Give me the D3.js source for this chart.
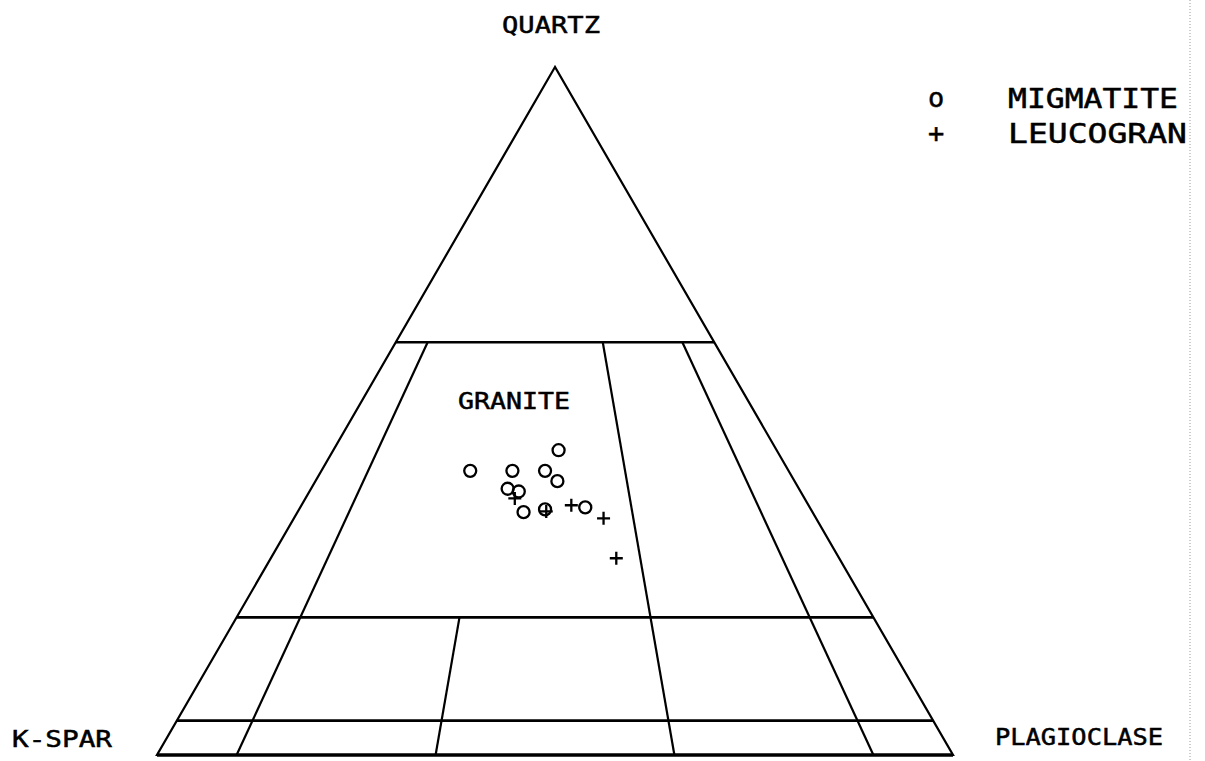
<!DOCTYPE html>
<html lang="en">
<head>
  <meta charset="UTF-8">
  <title>QAP ternary</title>
  <style>
    body { margin: 0; background: #fff; }
    svg { display: block; background: #fff; }
    .edge { fill: none; stroke: #000; stroke-width: 2.2; stroke-linejoin: miter; }
    .hline { stroke: #000; stroke-width: 2.6; }
    .base { stroke: #000; stroke-width: 3.5; }
    .ratio { stroke: #000; stroke-width: 2.2; }
    .label { font-family: "DejaVu Sans Mono", monospace; font-size: 23px; fill: #000; stroke: #000; stroke-width: 0.5; }
    .legend { font-family: "DejaVu Sans Mono", monospace; font-size: 27px; fill: #000; stroke: #000; stroke-width: 0.5; }
    .mig { fill: none; stroke: #000; stroke-width: 2.3; }
    .leu { stroke: #000; stroke-width: 2.3; }
  </style>
</head>
<body>
<div id="chart"></div>
<script src="https://d3js.org/d3.v7.min.js"></script>
<script>
// samples as [quartz, k-spar, plagioclase] percent
const migmatite = [
  [44.3, 27.4, 28.3],
  [41.3, 40.0, 18.7],
  [41.3, 34.7, 24.0],
  [41.3, 30.6, 28.1],
  [39.8, 29.8, 30.4],
  [38.7, 36.6, 24.7],
  [38.3, 35.4, 26.3],
  [35.3, 36.3, 28.4],
  [35.7, 33.4, 30.9],
  [36.0, 28.2, 35.8]
];
const leucogranite = [
  [37.3, 36.4, 26.3],
  [35.4, 33.4, 31.2],
  [36.3, 29.8, 33.9],
  [34.4, 26.7, 38.9],
  [28.6, 28.0, 43.4]
];

// field boundaries (Streckeisen)
const quartzLevels = [60, 20, 5];             // horizontal lines, % Q
const ratioLines = [                          // P/(A+P) %, from Q% down to Q%
  { r: 10, from: 60, to: 0 },
  { r: 35, from: 20, to: 0 },
  { r: 65, from: 60, to: 0 },
  { r: 90, from: 60, to: 0 }
];
const cornerLabels = ["QUARTZ", "K-SPAR", "PLAGIOCLASE"];
const fieldLabels = ["GRANITE"];
const seriesNames = ["MIGMATITE", "LEUCOGRAN"];

const width = 1205, height = 761;

const x = d3.scaleLinear().domain([0, 1]).range([157, 953]);
const y = d3.scaleLinear().domain([0, 100]).range([755, 67]);

// ternary -> screen
function tern(q, a, p) {
  const s = q + a + p;
  return [x((p + q / 2) / s), y(100 * q / s)];
}
// point from Q% and P/(A+P) ratio %
function qr(q, r) {
  const rest = 100 - q;
  return tern(q, rest * (1 - r / 100), rest * r / 100);
}

const svg = d3.select("#chart").append("svg")
  .attr("width", width)
  .attr("height", height);

// page border
svg.append("line")
  .attr("x1", 1190).attr("x2", 1190)
  .attr("y1", 0).attr("y2", height)
  .attr("stroke", "#999")
  .attr("stroke-width", 1)
  .attr("stroke-dasharray", "1,2");

const g = svg.append("g");

// outline
const corners = [tern(100, 0, 0), tern(0, 100, 0), tern(0, 0, 100)];
g.append("path")
  .attr("class", "edge")
  .attr("d", d3.line()(corners) + "Z");

g.append("line")
  .attr("class", "base")
  .attr("x1", corners[1][0]).attr("y1", corners[1][1])
  .attr("x2", corners[2][0]).attr("y2", corners[2][1]);

g.selectAll(".hline")
  .data(quartzLevels)
  .enter()
  .append("line")
  .attr("class", "hline")
  .attr("x1", d => qr(d, 0)[0]).attr("y1", d => qr(d, 0)[1])
  .attr("x2", d => qr(d, 100)[0]).attr("y2", d => qr(d, 100)[1]);

g.selectAll(".ratio")
  .data(ratioLines)
  .enter()
  .append("line")
  .attr("class", "ratio")
  .attr("x1", d => qr(d.from, d.r)[0]).attr("y1", d => qr(d.from, d.r)[1])
  .attr("x2", d => qr(d.to, d.r)[0]).attr("y2", d => qr(d.to, d.r)[1]);

// labels
const labelPos = [
  { x: 502, y: 33, len: 98 },
  { x: 12, y: 747, len: 100 },
  { x: 995, y: 745, len: 168 }
];
g.selectAll(".corner")
  .data(cornerLabels)
  .enter()
  .append("text")
  .attr("class", "label corner")
  .attr("x", (d, i) => labelPos[i].x)
  .attr("y", (d, i) => labelPos[i].y)
  .attr("textLength", (d, i) => labelPos[i].len)
  .attr("lengthAdjust", "spacingAndGlyphs")
  .text(d => d);

g.append("text")
  .attr("class", "label")
  .attr("x", 458).attr("y", 409)
  .attr("textLength", 112)
  .attr("lengthAdjust", "spacingAndGlyphs")
  .text(fieldLabels[0]);

// data
g.selectAll(".mig")
  .data(migmatite)
  .enter()
  .append("circle")
  .attr("class", "mig")
  .attr("cx", d => tern(...d)[0])
  .attr("cy", d => tern(...d)[1])
  .attr("r", 6);

g.selectAll(".leu")
  .data(leucogranite)
  .enter()
  .append("path")
  .attr("class", "leu")
  .attr("transform", d => "translate(" + tern(...d) + ")")
  .attr("d", "M-6.5,0H6.5M0,-6.5V6.5");

// legend
const legend = g.append("g");
legend.selectAll(".sym")
  .data(["o", "+"])
  .enter()
  .append("text")
  .attr("class", "legend sym")
  .attr("x", 928)
  .attr("y", (d, i) => 107 + i * 35)
  .text(d => d);
legend.selectAll(".name")
  .data(seriesNames)
  .enter()
  .append("text")
  .attr("class", "legend name")
  .attr("x", 1008)
  .attr("y", (d, i) => 108 + i * 35)
  .attr("textLength", (d, i) => i === 0 ? 170 : 179)
  .attr("lengthAdjust", "spacingAndGlyphs")
  .text(d => d);
</script>
</body>
</html>
